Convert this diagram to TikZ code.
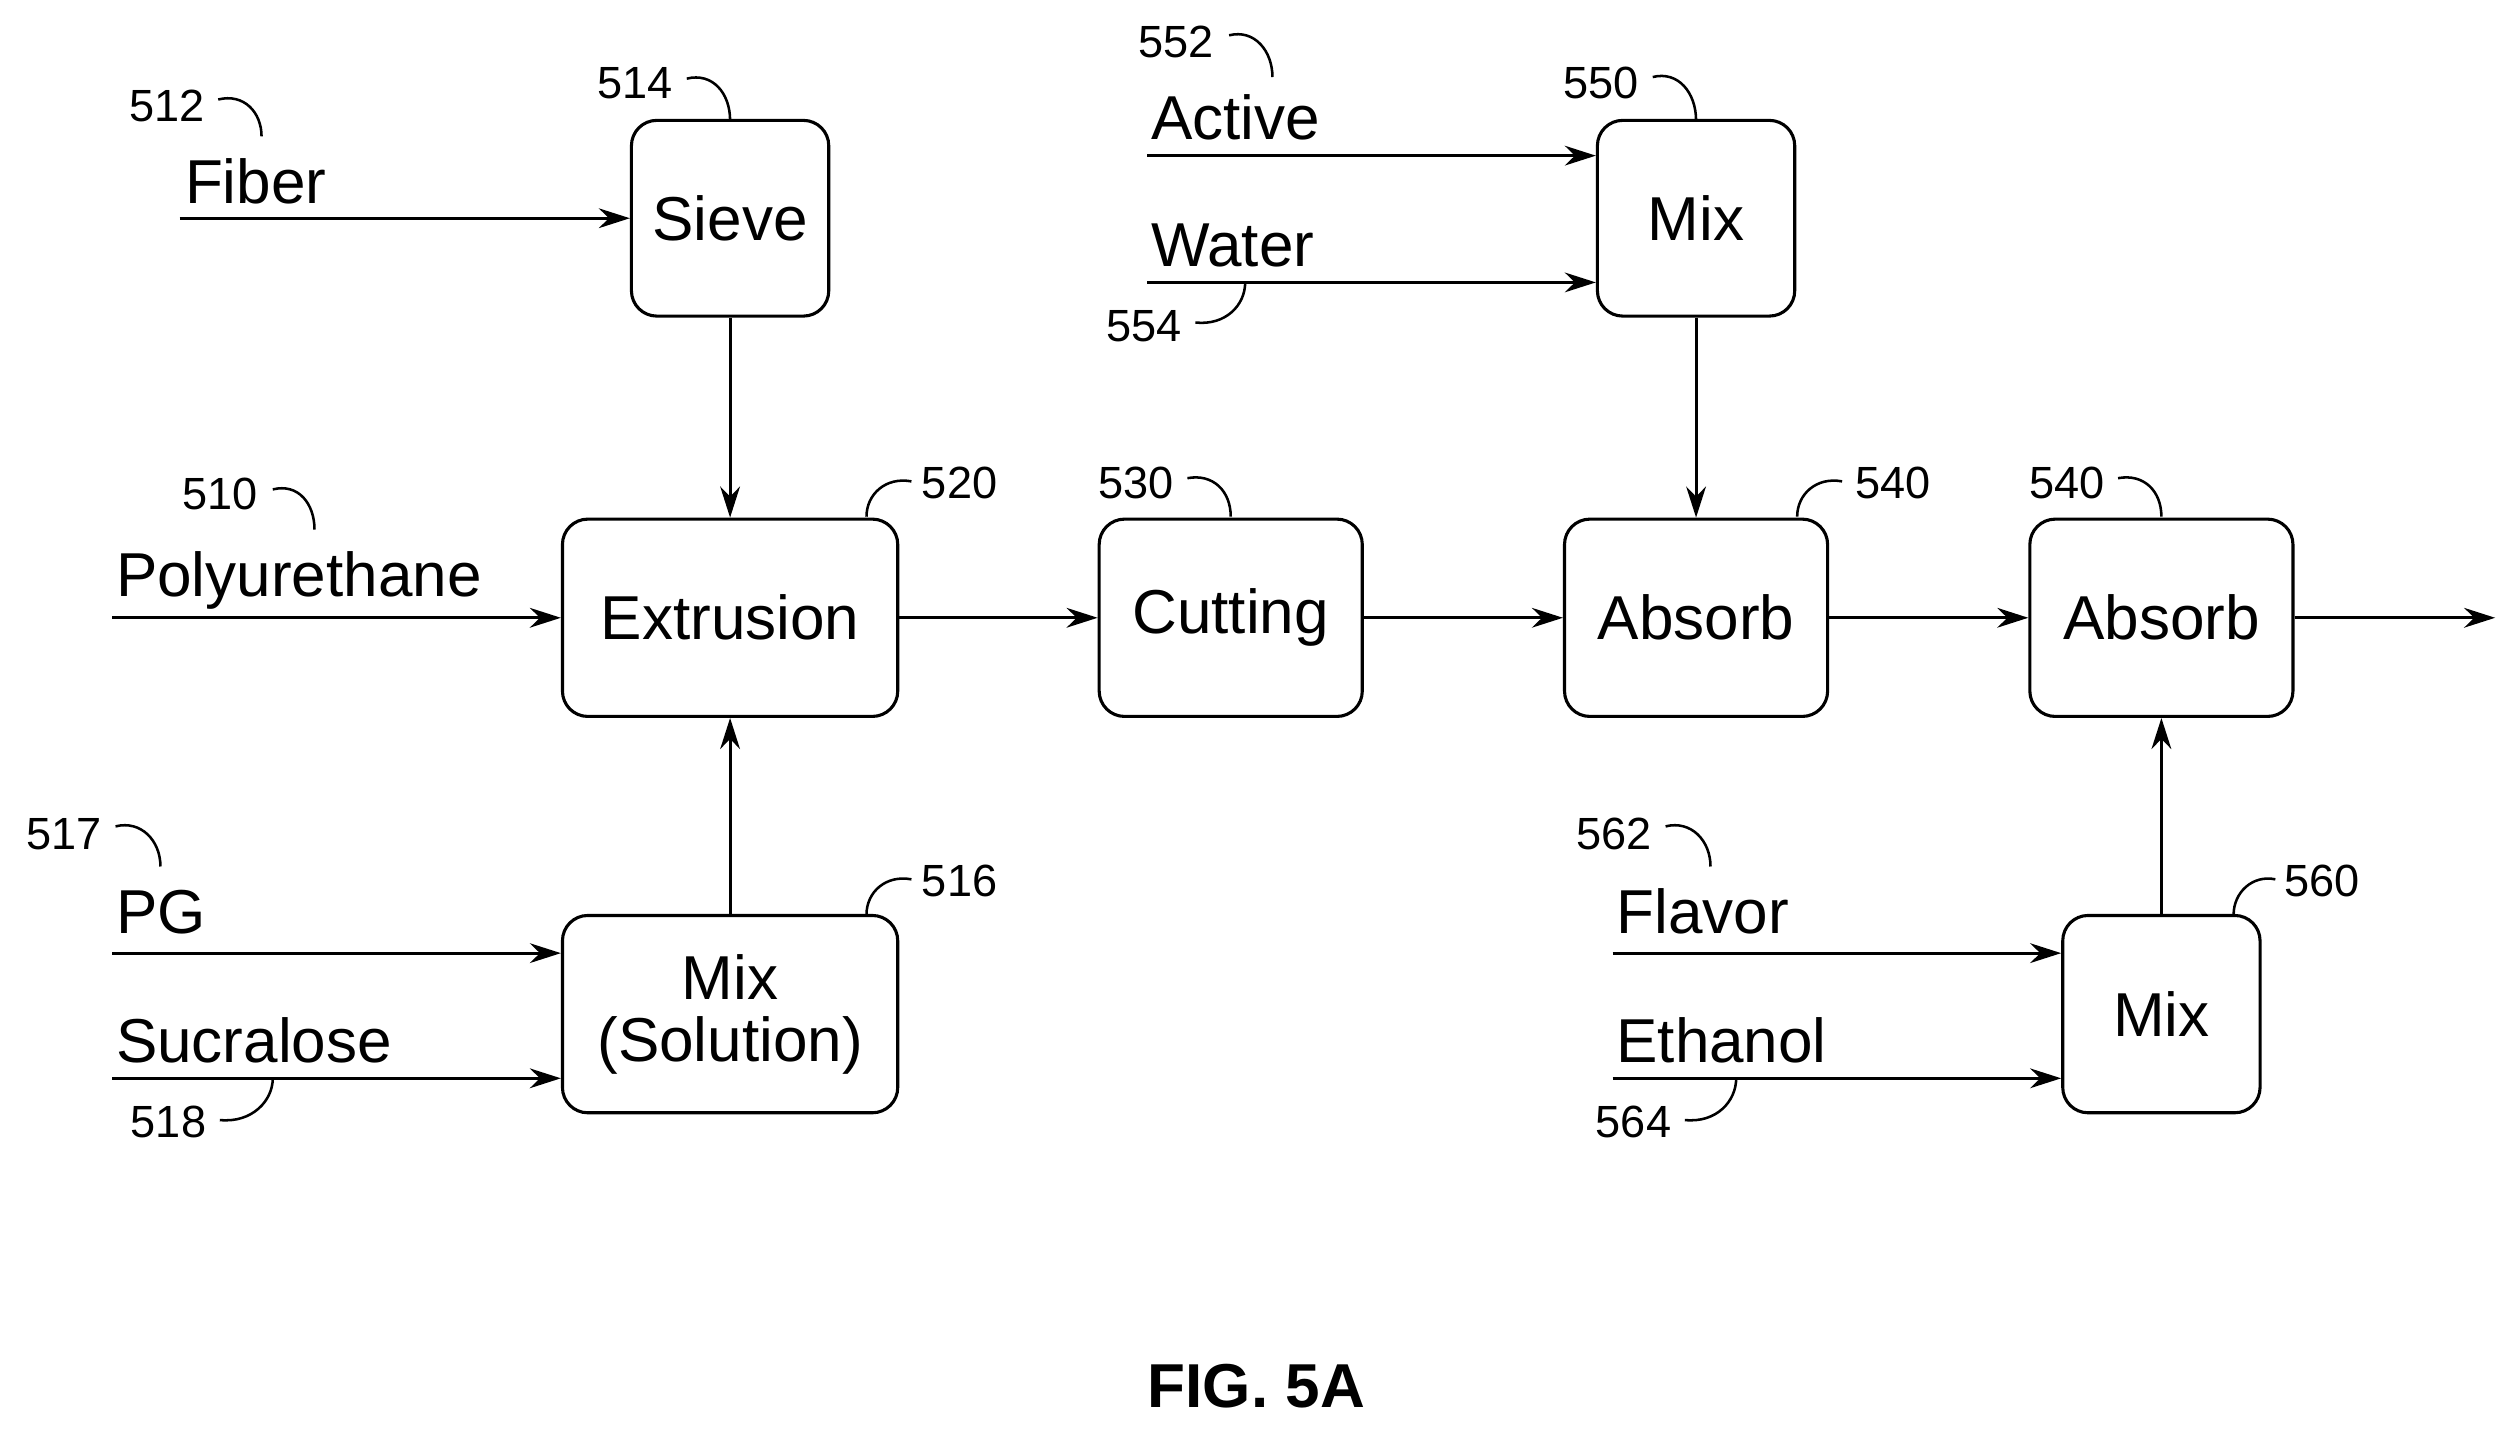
\documentclass[tikz,border=0pt]{standalone}
\usepackage{fontspec}
\setmainfont{Liberation Sans}
\usetikzlibrary{arrows.meta}
\begin{document}
\begin{tikzpicture}[x=0.02cm,y=-0.02cm,
  box/.style={draw,line width=1.1pt,rounded corners=9pt,align=center,font=\fontsize{22}{24}\selectfont,inner sep=0pt},
  lbl/.style={anchor=base west,font=\fontsize{22}{24}\selectfont,inner sep=0pt},
  num/.style={font=\fontsize{16}{18}\selectfont,inner sep=0pt},
  ar/.style={line width=1.1pt,-{Stealth[length=11pt,width=7pt]}},
  hk/.style={line width=0.9pt}]
\useasboundingbox (0,0) rectangle (1568,893);
\node[box,minimum width=2.46cm,minimum height=2.44cm] (sieve) at (455,136) {Sieve};
\node[box,minimum width=4.18cm,minimum height=2.46cm] (ext) at (455,385) {Extrusion};
\node[box,minimum width=4.18cm,minimum height=2.46cm] (mixs) at (455,632) {Mix\\[-2pt](Solution)};
\node[box,minimum width=3.28cm,minimum height=2.46cm] (cut) at (767,385) {Cutting};
\node[box,minimum width=2.46cm,minimum height=2.44cm] (mixt) at (1057,136) {Mix};
\node[box,minimum width=3.28cm,minimum height=2.46cm] (abs1) at (1057,385) {Absorb};
\node[box,minimum width=3.28cm,minimum height=2.46cm] (abs2) at (1347,385) {Absorb};
\node[box,minimum width=2.46cm,minimum height=2.46cm] (mixb) at (1347,632) {Mix};
% inputs
\coordinate (fib) at (112,136); \coordinate (pu) at (70,385);
\coordinate (pg) at (70,594); \coordinate (suc) at (70,672);
\coordinate (act) at (715,97); \coordinate (wat) at (715,176);
\coordinate (fla) at (1005,594); \coordinate (eth) at (1005,672);
\coordinate (out) at (1555,385);
\draw[ar] (fib) -- (sieve.west);
\draw[ar] (pu) -- (ext.west);
\draw[ar] (pg) -- (pg -| mixs.west);
\draw[ar] (suc) -- (suc -| mixs.west);
\draw[ar] (act) -- (act -| mixt.west);
\draw[ar] (wat) -- (wat -| mixt.west);
\draw[ar] (fla) -- (fla -| mixb.west);
\draw[ar] (eth) -- (eth -| mixb.west);
\draw[ar] (sieve) -- (ext);
\draw[ar] (mixs) -- (ext);
\draw[ar] (ext) -- (cut);
\draw[ar] (cut) -- (abs1);
\draw[ar] (mixt) -- (abs1);
\draw[ar] (abs1) -- (abs2);
\draw[ar] (mixb) -- (abs2);
\draw[ar] (abs2) -- (out);
% labels
\node[lbl] (tf) at (115,127) {Fiber};
\node[lbl] (tp) at (72,372) {Polyurethane};
\node[lbl] (tg) at (72,582) {PG};
\node[lbl] (ts) at (72,662) {Sucralose};
\node[lbl] (ta) at (717,87) {Active};
\node[lbl] (tw) at (717,166) {Water};
\node[lbl] (tfl) at (1007,582) {Flavor};
\node[lbl] (te) at (1007,662) {Ethanol};
% numbers and hooks
\node[num] (n512) at (104,66) {512};
\draw[hk] (136,62) .. controls (152,58) and (163,70) .. (163,85);
\node[num] (n514) at (396,52) {514};
\draw[hk] (428,49) .. controls (444,45) and (455,58) .. (455,75);
\node[num] (n510) at (137,308) {510};
\draw[hk] (170,305) .. controls (186,301) and (196,314) .. (196,330);
\node[num] (n520) at (598,301) {520};
\draw[hk] (568,300) .. controls (552,297) and (540,308) .. (540,322);
\node[num] (n530) at (708,301) {530};
\draw[hk] (740,298) .. controls (756,295) and (767,306) .. (767,322);
\node[num] (n540) at (1180,301) {540};
\draw[hk] (1148,300) .. controls (1132,297) and (1120,308) .. (1120,322);
\node[num] (n540b) at (1288,301) {540};
\draw[hk] (1320,298) .. controls (1336,295) and (1347,306) .. (1347,322);
\node[num] (n552) at (733,26) {552};
\draw[hk] (766,22) .. controls (782,18) and (793,32) .. (793,48);
\node[num] (n550) at (998,52) {550};
\draw[hk] (1030,48) .. controls (1046,44) and (1057,58) .. (1057,75);
\node[num] (n554) at (713,203) {554};
\draw[hk] (745,201) .. controls (764,203) and (776,190) .. (776,176);
\node[num] (n517) at (40,520) {517};
\draw[hk] (72,515) .. controls (88,511) and (100,524) .. (100,540);
\node[num] (n518) at (105,699) {518};
\draw[hk] (137,698) .. controls (157,700) and (170,686) .. (170,672);
\node[num] (n516) at (598,549) {516};
\draw[hk] (568,548) .. controls (552,545) and (540,556) .. (540,570);
\node[num] (n562) at (1006,520) {562};
\draw[hk] (1038,515) .. controls (1054,511) and (1066,524) .. (1066,540);
\node[num] (n564) at (1018,699) {564};
\draw[hk] (1050,698) .. controls (1070,700) and (1082,686) .. (1082,672);
\node[num] (n560) at (1447,549) {560};
\draw[hk] (1418,548) .. controls (1404,545) and (1392,556) .. (1392,570);
\node[font=\fontsize{22}{24}\selectfont\bfseries] (fig) at (783,864) {FIG. 5A};
\end{tikzpicture}
\end{document}
